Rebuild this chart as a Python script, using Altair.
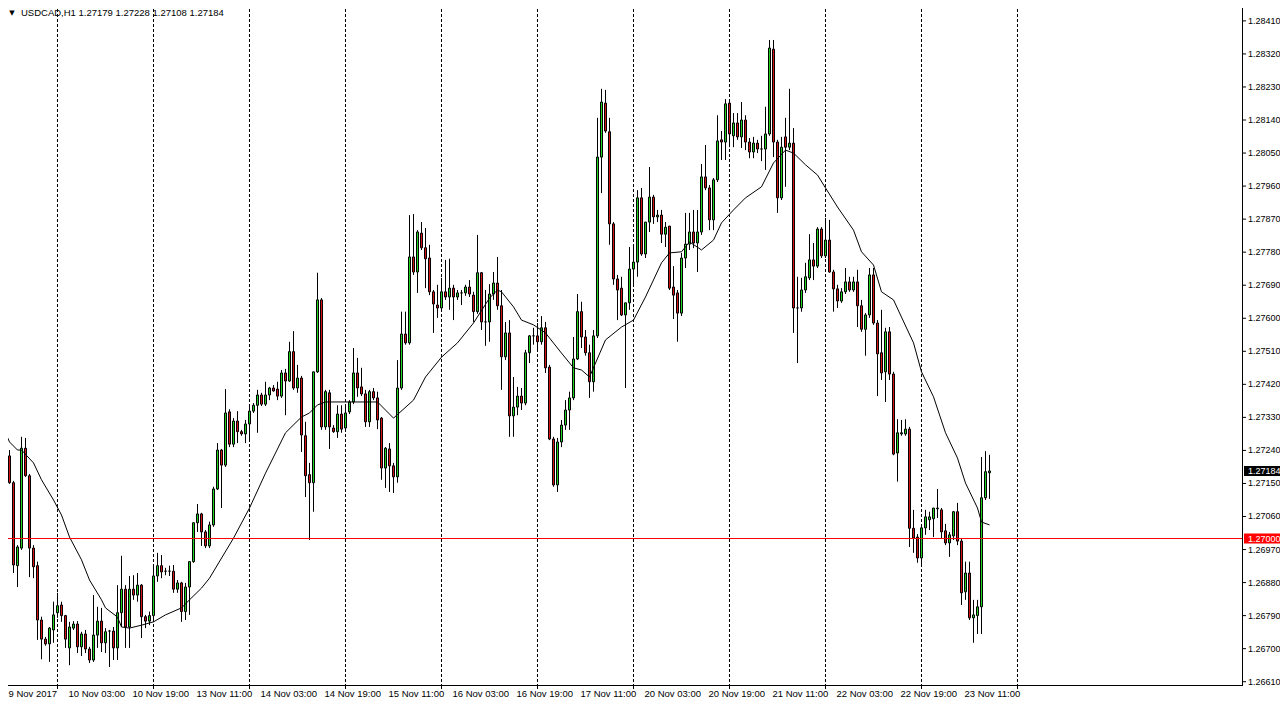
import altair as alt
import pandas as pd

# ---------------- data ----------------
opens = [
    1.27160, 1.27225, 1.27152, 1.26926, 1.26974, 1.27246, 1.27171, 1.26974, 1.26926, 1.26778,
    1.26726, 1.26713, 1.26751, 1.26798, 1.26819, 1.26790, 1.26702, 1.26756, 1.26767, 1.26705,
    1.26740, 1.26699, 1.26669, 1.26737, 1.26775, 1.26716, 1.26748, 1.26748, 1.26702, 1.26798,
    1.26862, 1.26759, 1.26862, 1.26846, 1.26873, 1.26787, 1.26775, 1.26790, 1.26898, 1.26926,
    1.26911, 1.26911, 1.26911, 1.26862, 1.26879, 1.26801, 1.26868, 1.26937, 1.27043, 1.27067,
    1.27018, 1.26980, 1.27037, 1.27135, 1.27241, 1.27200, 1.27345, 1.27257, 1.27320, 1.27291,
    1.27285, 1.27312, 1.27347, 1.27363, 1.27391, 1.27366, 1.27391, 1.27410, 1.27407, 1.27388,
    1.27451, 1.27429, 1.27509, 1.27410, 1.27437, 1.27280, 1.27174, 1.27152, 1.27454, 1.27650,
    1.27304, 1.27397, 1.27301, 1.27291, 1.27339, 1.27301, 1.27345, 1.27372, 1.27451, 1.27413,
    1.27394, 1.27318, 1.27400, 1.27383, 1.27328, 1.27192, 1.27244, 1.27198, 1.27168, 1.27410,
    1.27557, 1.27533, 1.27767, 1.27726, 1.27832, 1.27792, 1.27764, 1.27672, 1.27636, 1.27628,
    1.27672, 1.27658, 1.27682, 1.27658, 1.27669, 1.27669, 1.27685, 1.27663, 1.27618, 1.27724,
    1.27590, 1.27590, 1.27666, 1.27696, 1.27634, 1.27495, 1.27560, 1.27334, 1.27358, 1.27388,
    1.27369, 1.27506, 1.27552, 1.27552, 1.27536, 1.27574, 1.27467, 1.27271, 1.27146, 1.27263,
    1.27309, 1.27350, 1.27383, 1.27489, 1.27618, 1.27549, 1.27506, 1.27427, 1.27552, 1.28039,
    1.28186, 1.28108, 1.27857, 1.27707, 1.27682, 1.27609, 1.27642, 1.27734, 1.27753, 1.27928,
    1.27775, 1.27862, 1.27930, 1.27876, 1.27881, 1.27829, 1.27851, 1.27685, 1.27669, 1.27614,
    1.27764, 1.27802, 1.27835, 1.27805, 1.27835, 1.27985, 1.27955, 1.27868, 1.27977, 1.28086,
    1.28080, 1.28186, 1.28097, 1.28132, 1.28094, 1.28140, 1.28080, 1.28053, 1.28077, 1.28061,
    1.28061, 1.28102, 1.28333, 1.28080, 1.27928, 1.28094, 1.28066, 1.28077, 1.27628, 1.27628,
    1.27677, 1.27710, 1.27759, 1.27742, 1.27843, 1.27770, 1.27813, 1.27726, 1.27680, 1.27647,
    1.27672, 1.27699, 1.27677, 1.27699, 1.27634, 1.27570, 1.27609, 1.27718, 1.27587, 1.27506,
    1.27454, 1.27563, 1.27448, 1.27233, 1.27285, 1.27285, 1.27298, 1.27028, 1.27004, 1.26947,
    1.27029, 1.27051, 1.27054, 1.27081, 1.27078, 1.27021, 1.26988, 1.27007, 1.27073, 1.26993,
    1.26855, 1.26906, 1.26784, 1.26790, 1.26814, 1.27111, 1.27179,
]
highs = [
    1.27241, 1.27241, 1.27157, 1.26982, 1.27277, 1.27274, 1.27176, 1.26982, 1.26937, 1.26787,
    1.26732, 1.26759, 1.26828, 1.26852, 1.26828, 1.26792, 1.26773, 1.26775, 1.26775, 1.26746,
    1.26751, 1.26705, 1.26846, 1.26814, 1.26811, 1.26756, 1.26751, 1.26759, 1.26873, 1.26953,
    1.26873, 1.26898, 1.26900, 1.26906, 1.26876, 1.26792, 1.26801, 1.26928, 1.26961, 1.26955,
    1.26920, 1.26926, 1.26928, 1.26887, 1.26882, 1.26879, 1.26937, 1.27043, 1.27094, 1.27070,
    1.27023, 1.27046, 1.27141, 1.27260, 1.27244, 1.27407, 1.27352, 1.27328, 1.27347, 1.27296,
    1.27323, 1.27358, 1.27369, 1.27405, 1.27397, 1.27427, 1.27413, 1.27418, 1.27427, 1.27459,
    1.27462, 1.27536, 1.27565, 1.27473, 1.27443, 1.27318, 1.27206, 1.27454, 1.27724, 1.27655,
    1.27405, 1.27405, 1.27309, 1.27363, 1.27363, 1.27366, 1.27377, 1.27519, 1.27492, 1.27465,
    1.27405, 1.27405, 1.27410, 1.27400, 1.27331, 1.27249, 1.27260, 1.27206, 1.27486, 1.27618,
    1.27618, 1.27881, 1.27884, 1.27840, 1.27862, 1.27846, 1.27800, 1.27677, 1.27691, 1.27710,
    1.27759, 1.27762, 1.27691, 1.27677, 1.27677, 1.27691, 1.27704, 1.27672, 1.27827, 1.27726,
    1.27677, 1.27693, 1.27726, 1.27767, 1.27677, 1.27590, 1.27595, 1.27440, 1.27413, 1.27410,
    1.27514, 1.27554, 1.27574, 1.27587, 1.27606, 1.27590, 1.27473, 1.27277, 1.27274, 1.27323,
    1.27377, 1.27400, 1.27549, 1.27666, 1.27645, 1.27568, 1.27528, 1.27568, 1.28146, 1.28225,
    1.28222, 1.28146, 1.27862, 1.27718, 1.27713, 1.27642, 1.27794, 1.27800, 1.27949, 1.27955,
    1.27813, 1.28012, 1.27936, 1.27895, 1.27895, 1.27862, 1.27851, 1.27742, 1.27677, 1.27778,
    1.27887, 1.27887, 1.27895, 1.27895, 1.28020, 1.28072, 1.27963, 1.27982, 1.28153, 1.28110,
    1.28197, 1.28195, 1.28159, 1.28159, 1.28189, 1.28153, 1.28091, 1.28094, 1.28086, 1.28097,
    1.28176, 1.28358, 1.28358, 1.28086, 1.28094, 1.28146, 1.28225, 1.28118, 1.27713, 1.27710,
    1.27751, 1.27829, 1.27805, 1.27848, 1.27848, 1.27873, 1.27868, 1.27732, 1.27691, 1.27682,
    1.27737, 1.27713, 1.27713, 1.27732, 1.27650, 1.27614, 1.27737, 1.27737, 1.27595, 1.27623,
    1.27574, 1.27576, 1.27454, 1.27325, 1.27323, 1.27325, 1.27304, 1.27078, 1.27012, 1.27032,
    1.27078, 1.27073, 1.27083, 1.27135, 1.27083, 1.27040, 1.27018, 1.27075, 1.27097, 1.27001,
    1.26937, 1.26937, 1.26833, 1.26833, 1.27222, 1.27238, 1.27228,
]
lows = [
    1.27155, 1.27149, 1.26906, 1.26868, 1.26969, 1.27168, 1.26895, 1.26892, 1.26724, 1.26671,
    1.26708, 1.26664, 1.26716, 1.26784, 1.26773, 1.26702, 1.26655, 1.26751, 1.26688, 1.26680,
    1.26688, 1.26661, 1.26664, 1.26702, 1.26691, 1.26688, 1.26650, 1.26669, 1.26669, 1.26759,
    1.26702, 1.26702, 1.26833, 1.26828, 1.26729, 1.26756, 1.26764, 1.26778, 1.26882, 1.26892,
    1.26900, 1.26898, 1.26852, 1.26852, 1.26773, 1.26778, 1.26792, 1.26934, 1.27018, 1.26980,
    1.26974, 1.26974, 1.27032, 1.27132, 1.27083, 1.27195, 1.27249, 1.27249, 1.27260, 1.27280,
    1.27260, 1.27271, 1.27342, 1.27288, 1.27361, 1.27361, 1.27377, 1.27400, 1.27377, 1.27383,
    1.27336, 1.27427, 1.27405, 1.27397, 1.27236, 1.27113, 1.26996, 1.27073, 1.27451, 1.27296,
    1.27296, 1.27244, 1.27288, 1.27274, 1.27288, 1.27296, 1.27339, 1.27366, 1.27386, 1.27388,
    1.27304, 1.27304, 1.27377, 1.27298, 1.27160, 1.27138, 1.27127, 1.27124, 1.27152, 1.27405,
    1.27528, 1.27528, 1.27718, 1.27669, 1.27786, 1.27682, 1.27663, 1.27560, 1.27601, 1.27623,
    1.27650, 1.27623, 1.27595, 1.27650, 1.27636, 1.27661, 1.27658, 1.27590, 1.27612, 1.27568,
    1.27525, 1.27536, 1.27650, 1.27623, 1.27405, 1.27486, 1.27277, 1.27277, 1.27336, 1.27350,
    1.27363, 1.27478, 1.27528, 1.27514, 1.27528, 1.27451, 1.27268, 1.27141, 1.27127, 1.27249,
    1.27296, 1.27296, 1.27377, 1.27486, 1.27519, 1.27498, 1.27383, 1.27400, 1.27546, 1.27941,
    1.28105, 1.27800, 1.27691, 1.27595, 1.27606, 1.27410, 1.27623, 1.27691, 1.27713, 1.27770,
    1.27764, 1.27835, 1.27857, 1.27862, 1.27805, 1.27794, 1.27677, 1.27598, 1.27536, 1.27606,
    1.27737, 1.27786, 1.27791, 1.27726, 1.27827, 1.27949, 1.27840, 1.27840, 1.27971, 1.28031,
    1.28031, 1.28066, 1.28066, 1.28086, 1.28064, 1.28058, 1.28036, 1.28036, 1.28050, 1.28028,
    1.28004, 1.28097, 1.28039, 1.27887, 1.27922, 1.27958, 1.28058, 1.27560, 1.27478, 1.27618,
    1.27669, 1.27704, 1.27704, 1.27737, 1.27764, 1.27764, 1.27724, 1.27618, 1.27628, 1.27642,
    1.27666, 1.27672, 1.27672, 1.27576, 1.27563, 1.27498, 1.27601, 1.27582, 1.27388, 1.27432,
    1.27372, 1.27432, 1.27227, 1.27155, 1.27280, 1.27280, 1.26977, 1.26961, 1.26934, 1.26928,
    1.27010, 1.27023, 1.27004, 1.27056, 1.27001, 1.26982, 1.26950, 1.26996, 1.26982, 1.26819,
    1.26833, 1.26778, 1.26716, 1.26740, 1.26740, 1.27105, 1.27108,
]
closes = [
    1.27225, 1.27152, 1.26928, 1.26977, 1.27246, 1.27171, 1.26974, 1.26923, 1.26778, 1.26726,
    1.26713, 1.26756, 1.26792, 1.26817, 1.26790, 1.26726, 1.26759, 1.26767, 1.26705, 1.26740,
    1.26699, 1.26669, 1.26737, 1.26775, 1.26716, 1.26746, 1.26748, 1.26702, 1.26798, 1.26862,
    1.26759, 1.26862, 1.26846, 1.26873, 1.26787, 1.26775, 1.26790, 1.26898, 1.26926, 1.26909,
    1.26911, 1.26911, 1.26862, 1.26879, 1.26801, 1.26868, 1.26937, 1.27043, 1.27067, 1.27018,
    1.26980, 1.27037, 1.27135, 1.27241, 1.27200, 1.27342, 1.27257, 1.27320, 1.27291, 1.27285,
    1.27312, 1.27347, 1.27363, 1.27391, 1.27366, 1.27391, 1.27410, 1.27402, 1.27388, 1.27451,
    1.27429, 1.27509, 1.27410, 1.27437, 1.27282, 1.27171, 1.27152, 1.27454, 1.27650, 1.27304,
    1.27400, 1.27304, 1.27291, 1.27339, 1.27298, 1.27342, 1.27372, 1.27451, 1.27410, 1.27394,
    1.27318, 1.27400, 1.27383, 1.27323, 1.27192, 1.27246, 1.27198, 1.27168, 1.27410, 1.27557,
    1.27533, 1.27767, 1.27726, 1.27835, 1.27792, 1.27762, 1.27672, 1.27639, 1.27628, 1.27672,
    1.27658, 1.27682, 1.27658, 1.27669, 1.27669, 1.27685, 1.27666, 1.27618, 1.27724, 1.27590,
    1.27590, 1.27666, 1.27696, 1.27634, 1.27495, 1.27560, 1.27334, 1.27358, 1.27388, 1.27369,
    1.27506, 1.27552, 1.27552, 1.27536, 1.27574, 1.27465, 1.27271, 1.27146, 1.27263, 1.27309,
    1.27350, 1.27383, 1.27489, 1.27618, 1.27549, 1.27506, 1.27427, 1.27552, 1.28039, 1.28189,
    1.28110, 1.27857, 1.27707, 1.27677, 1.27609, 1.27642, 1.27734, 1.27753, 1.27928, 1.27775,
    1.27862, 1.27930, 1.27876, 1.27881, 1.27829, 1.27848, 1.27682, 1.27663, 1.27614, 1.27764,
    1.27802, 1.27835, 1.27805, 1.27835, 1.27985, 1.27955, 1.27868, 1.27977, 1.28083, 1.28080,
    1.28184, 1.28102, 1.28132, 1.28094, 1.28140, 1.28080, 1.28053, 1.28077, 1.28061, 1.28061,
    1.28102, 1.28336, 1.28080, 1.27928, 1.28066, 1.28066, 1.28077, 1.27628, 1.27628, 1.27677,
    1.27713, 1.27759, 1.27742, 1.27843, 1.27770, 1.27813, 1.27726, 1.27680, 1.27647, 1.27672,
    1.27699, 1.27677, 1.27699, 1.27634, 1.27570, 1.27609, 1.27718, 1.27587, 1.27503, 1.27451,
    1.27563, 1.27448, 1.27230, 1.27288, 1.27288, 1.27298, 1.27028, 1.27001, 1.26947, 1.27029,
    1.27059, 1.27059, 1.27083, 1.27083, 1.27018, 1.26988, 1.27010, 1.27073, 1.26993, 1.26852,
    1.26906, 1.26784, 1.26792, 1.26814, 1.27111, 1.27182, 1.27184,
]

# moving-average line (bar index, price)
ma_bars = [0, 1, 3, 4, 7, 9, 12, 14, 16, 19, 21, 24, 25, 28, 29, 31, 34, 37, 40, 44,
           46, 49, 51, 57, 61, 65, 70, 74, 76, 78, 80, 87, 93, 95, 97, 102, 105, 109, 113, 117,
           121, 123, 124, 127, 129, 132, 135, 139, 142, 144, 146, 150, 154, 157, 160, 164, 166, 169, 171, 174,
           177, 179, 182, 185, 189, 192, 195, 197, 200, 203, 205, 208, 212, 214, 217, 219, 222, 224, 227, 229,
           232, 235, 238, 240, 243, 244, 246]
ma_values = [1.27288, 1.27263, 1.27241, 1.27241, 1.27206, 1.27160, 1.27105, 1.27064, 1.27004, 1.26942,
             1.26887, 1.26833, 1.26811, 1.26786, 1.26759, 1.26756, 1.26764, 1.26773, 1.26792, 1.26811,
             1.26833, 1.26865, 1.26892, 1.27001, 1.27083, 1.27178, 1.27288, 1.27331, 1.27342, 1.27364,
             1.27372, 1.27372, 1.27372, 1.27350, 1.27328, 1.27377, 1.27440, 1.27494, 1.27533, 1.27587,
             1.27655, 1.27677, 1.27672, 1.27631, 1.27595, 1.27582, 1.27560, 1.27505, 1.27465, 1.27459,
             1.27440, 1.27541, 1.27576, 1.27595, 1.27658, 1.27751, 1.27778, 1.27781, 1.27808, 1.27786,
             1.27813, 1.27860, 1.27895, 1.27928, 1.27958, 1.28023, 1.28058, 1.28050, 1.28018, 1.27990,
             1.27955, 1.27903, 1.27840, 1.27781, 1.27745, 1.27672, 1.27650, 1.27603, 1.27533, 1.27454,
             1.27386, 1.27288, 1.27219, 1.27151, 1.27083, 1.27045, 1.27037]

grid_bars = [13, 37, 61, 85, 109, 133, 157, 181, 205, 229, 253]
label_bars = [0, 15, 31, 47, 63, 79, 95, 111, 127, 143, 159, 175, 191, 207, 223, 239]
label_texts = ["9 Nov 2017", "10 Nov 03:00", "10 Nov 19:00", "13 Nov 11:00", "14 Nov 03:00",
               "14 Nov 19:00", "15 Nov 11:00", "16 Nov 03:00", "16 Nov 19:00", "17 Nov 11:00",
               "20 Nov 03:00", "20 Nov 19:00", "21 Nov 11:00", "22 Nov 03:00", "22 Nov 19:00",
               "23 Nov 11:00"]
price_ticks = [1.26610, 1.26700, 1.26790, 1.26880, 1.26970, 1.27060, 1.27150, 1.27240, 1.27330,
               1.27420, 1.27510, 1.27600, 1.27690, 1.27780, 1.27870, 1.27960, 1.28050, 1.28140,
               1.28230, 1.28320, 1.28410]
level_price = 1.27000
last_price = 1.27184
title_text = "USDCAD,H1  1.27179 1.27228 1.27108 1.27184"

# ---------------- chart ----------------
FONT = "Liberation Sans"
GREEN = "#1ED21E"
RED = "#D21414"
W, H = 1238, 681

xs = alt.Scale(domain=[-0.375, 309.125], nice=False, zero=False, padding=0)
ys = alt.Scale(domain=[1.26601, 1.28456], nice=False, zero=False, padding=0)

candles = pd.DataFrame({
    "bar": list(range(len(opens))),
    "open": opens, "high": highs, "low": lows, "close": closes,
})
candles["dir"] = ["up" if c >= o else "down" for o, c in zip(opens, closes)]

grid = alt.Chart(pd.DataFrame({"bar": grid_bars})).mark_rule(
    color="black", strokeWidth=1, strokeDash=[3, 2]
).encode(x=alt.X("bar:Q", scale=xs, axis=None))

# bottom time-axis ticks (below the plot) at the grid positions
xticks = alt.Chart(pd.DataFrame({"bar": grid_bars})).mark_rule(color="black", strokeWidth=1).encode(
    x=alt.X("bar:Q", scale=xs, axis=None),
    y=alt.value(H),
    y2=alt.value(H + 4),
)

wicks = alt.Chart(candles).mark_rule(color="black", strokeWidth=1).encode(
    x=alt.X("bar:Q", scale=xs, axis=None),
    y=alt.Y("low:Q", scale=ys, axis=None),
    y2="high:Q",
)

bodies = alt.Chart(candles).mark_bar(size=2, stroke="black", strokeWidth=1, opacity=1).encode(
    x=alt.X("bar:Q", scale=xs, axis=None),
    y=alt.Y("open:Q", scale=ys, axis=None),
    y2="close:Q",
    color=alt.Color("dir:N", scale=alt.Scale(domain=["up", "down"], range=[GREEN, RED]), legend=None),
)

ma = alt.Chart(pd.DataFrame({"bar": ma_bars, "ma": ma_values})).mark_line(
    color="black", strokeWidth=1
).encode(
    x=alt.X("bar:Q", scale=xs, axis=None),
    y=alt.Y("ma:Q", scale=ys, axis=None),
)

level = alt.Chart(pd.DataFrame({"p": [level_price]})).mark_rule(color="#FF0000", strokeWidth=1).encode(
    y=alt.Y("p:Q", scale=ys, axis=None)
)

# plot frame: right and bottom edges
frame_right = alt.Chart(pd.DataFrame({"k": [0]})).mark_rule(color="black", strokeWidth=1).encode(
    x=alt.value(W + 0.5), y=alt.value(0), y2=alt.value(H + 0.5)
)
frame_bottom = alt.Chart(pd.DataFrame({"k": [0]})).mark_rule(color="black", strokeWidth=1).encode(
    x=alt.value(0), x2=alt.value(W + 1), y=alt.value(H + 0.5)
)

# right price scale: tick marks and labels
ticks_df = pd.DataFrame({"p": price_ticks, "txt": [f"{v:.5f}" for v in price_ticks]})
yticks = alt.Chart(ticks_df).mark_rule(color="black", strokeWidth=1).encode(
    x=alt.value(W + 1), x2=alt.value(W + 4),
    y=alt.Y("p:Q", scale=ys, axis=None),
)
ylabels = alt.Chart(ticks_df).mark_text(
    align="left", baseline="middle", font=FONT, fontSize=9, color="black"
).encode(
    x=alt.value(W + 6),
    y=alt.Y("p:Q", scale=ys, axis=None),
    text="txt:N",
)

boxes_df = pd.DataFrame({
    "p": [last_price, level_price],
    "txt": [f"{last_price:.5f}", f"{level_price:.5f}"],
    "bg": ["black", "#FF0000"],
})
box_rect = alt.Chart(boxes_df).mark_tick(orient="horizontal", size=36, thickness=10, opacity=1).encode(
    x=alt.value(W + 20),
    y=alt.Y("p:Q", scale=ys, axis=None),
    color=alt.Color("bg:N", scale=None, legend=None),
)
box_text = alt.Chart(boxes_df).mark_text(
    align="left", baseline="middle", color="white", font=FONT, fontSize=9
).encode(
    x=alt.value(W + 6),
    y=alt.Y("p:Q", scale=ys, axis=None),
    text="txt:N",
)

title = alt.Chart(pd.DataFrame({"t": [title_text]})).mark_text(
    align="left", baseline="middle", font=FONT, fontSize=9.5, color="black"
).encode(x=alt.value(17), y=alt.value(9), text="t:N")

tri = alt.Chart(pd.DataFrame({"t": ["\u25BC"]})).mark_text(
    align="center", baseline="middle", font="DejaVu Sans", fontSize=7, color="black"
).encode(x=alt.value(8), y=alt.value(9), text="t:N")

dates = alt.Chart(pd.DataFrame({"bar": label_bars, "txt": label_texts})).mark_text(
    align="left", baseline="middle", dx=3, font=FONT, fontSize=9.5, color="black"
).encode(
    x=alt.X("bar:Q", scale=xs, axis=None),
    y=alt.value(H + 9),
    text="txt:N",
)

chart = alt.layer(
    grid, wicks, bodies, ma, level, frame_right, frame_bottom, xticks,
    yticks, ylabels, box_rect, box_text, title, tri, dates
).properties(
    width=W, height=H,
    autosize=alt.AutoSizeParams(type="none"),
    padding={"left": -4, "top": -4, "right": 38, "bottom": 14},
).configure_view(strokeWidth=0).configure(background="white")

chart.save("out.html", embed_options={"renderer": "svg", "actions": False})
